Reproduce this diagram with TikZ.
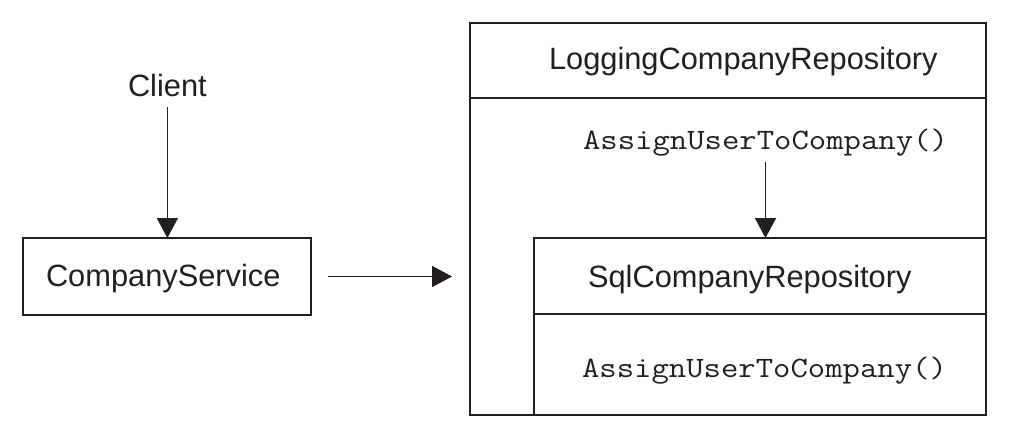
\documentclass[tikz,border=0pt]{standalone}
\usepackage{fontspec}
\setmainfont{Liberation Sans}
\usetikzlibrary{arrows.meta}
\definecolor{ink}{RGB}{35,31,32}
\newcommand{\codetext}[1]{\scalebox{1.14}[1]{#1}}
\begin{document}
\begin{tikzpicture}[x=1pt,y=-1pt,
  boxst/.style={draw=ink, line width=2pt, rectangle, inner sep=0pt, outer sep=0pt, anchor=north west},
  divider/.style={draw=ink, line width=2pt},
  lbl/.style={inner sep=0pt, outer sep=0pt, anchor=base west, font=\fontsize{30.8}{36}\selectfont, text=ink},
  code/.style={inner sep=0pt, outer sep=0pt, anchor=base west, font=\ttfamily\fontsize{29.6}{34}\selectfont, text=ink},
  arr/.style={draw=ink, line width=1.6pt, -{Triangle[length=20pt,width=21pt]}}]
\useasboundingbox (0,0) rectangle (1009,440);
\fill[white] (0,0) rectangle (1009,440);
% boxes
\node[boxst, minimum width=288pt, minimum height=77pt] (cs) at (23,238) {};
\node[boxst, minimum width=516pt, minimum height=392pt] (outer) at (470,23) {};
\node[boxst, minimum width=452pt, minimum height=177pt] (sql) at (534,238) {};
\draw[divider] (outer.west |- 0,98) -- (outer.east |- 0,98);
\draw[divider] (sql.west |- 0,314) -- (sql.east |- 0,314);
% texts
\node[lbl] (client) at (128,96) {Client};
\node[lbl] (cslbl) at (46,286) {CompanyService};
\node[lbl] (loglbl) at (549,69) {LoggingCompanyRepository};
\node[code] (m1) at (583,149) {\codetext{AssignUserToCompany()}};
\node[lbl] (sqllbl) at (588,287) {SqlCompanyRepository};
\node[code] (m2) at (582,377) {\codetext{AssignUserToCompany()}};
% connectors
\draw[arr, shorten <=11pt] (client.south) -- (client.south |- cs.north);
\draw[arr, shorten <=17pt, shorten >=18pt] (cs.east) -- (outer.west |- cs.east);
\draw[arr, shorten <=6pt] (m1.south) -- (m1.south |- sql.north);
\end{tikzpicture}
\end{document}
